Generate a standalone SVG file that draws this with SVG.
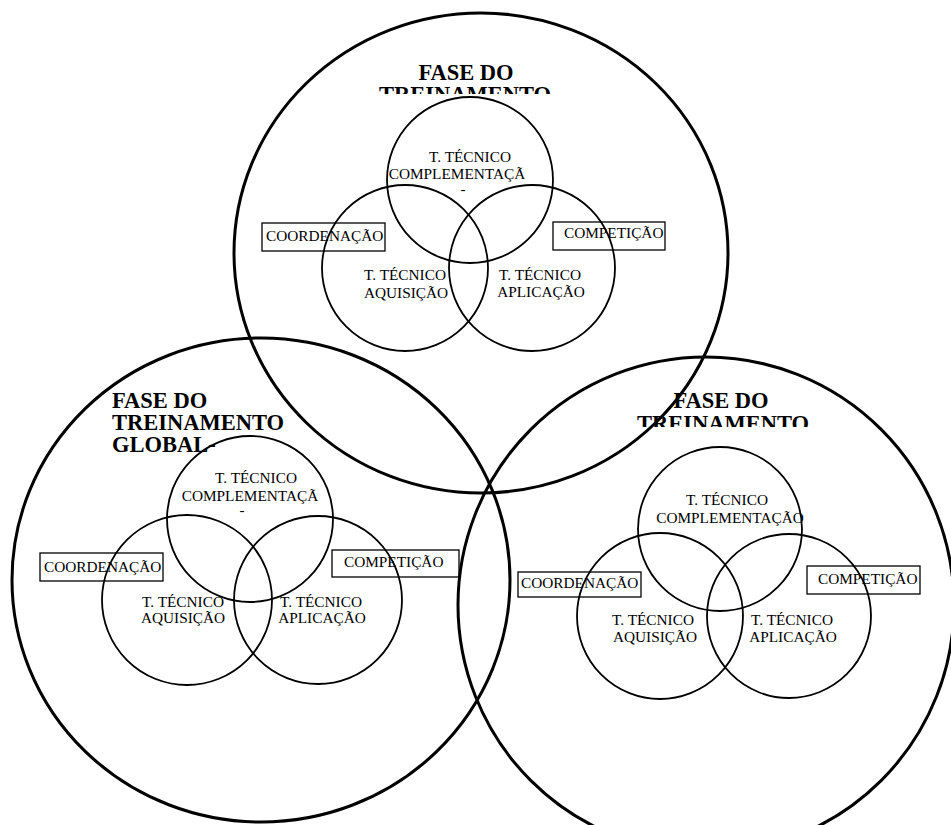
<svg xmlns="http://www.w3.org/2000/svg" width="951" height="825" viewBox="0 0 951 825">
<style>
.big{fill:none;stroke:#000;stroke-width:3}
.sm{fill:none;stroke:#000;stroke-width:1.8}
.box{fill:none;stroke:#000;stroke-width:1.3}
.t{font-family:"Liberation Serif","Times New Roman",serif;font-size:15.3px;fill:#000;text-anchor:middle}
.tl{font-family:"Liberation Serif","Times New Roman",serif;font-size:15.3px;fill:#000}
.h{font-family:"Liberation Serif","Times New Roman",serif;font-size:22.5px;font-weight:bold;fill:#000}
</style>
<defs>
<clipPath id="clipTop"><rect x="0" y="0" width="951" height="94"/></clipPath>
<clipPath id="clipRight"><rect x="0" y="0" width="951" height="427"/></clipPath>
</defs>
<rect width="951" height="825" fill="#fff"/>

<g id="phase-top">
<ellipse class="big" cx="481" cy="253" rx="247" ry="240"/>
<g clip-path="url(#clipTop)">
<text class="h" x="466" y="80" text-anchor="middle">FASE DO</text>
<text class="h" x="465" y="102" text-anchor="middle">TREINAMENTO</text>
</g>
<g id="top-complementacao">
<circle class="sm" cx="470" cy="180" r="83"/>
<text class="t" x="470" y="162">T. TÉCNICO</text>
<text class="t" x="457" y="179">COMPLEMENTAÇÃ</text>
<text class="t" x="463" y="194">-</text>
</g>
<g id="top-aquisicao">
<circle class="sm" cx="405" cy="268" r="83"/>
<text class="t" x="405" y="280">T. TÉCNICO</text>
<text class="t" x="406" y="298">AQUISIÇÃO</text>
</g>
<g id="top-aplicacao">
<circle class="sm" cx="532" cy="268" r="83"/>
<text class="t" x="540" y="280">T. TÉCNICO</text>
<text class="t" x="541" y="297">APLICAÇÃO</text>
</g>
<g id="top-coordenacao">
<rect class="box" x="262" y="223" width="123" height="28"/>
<text class="tl" x="266" y="241">COORDENAÇÃO</text>
</g>
<g id="top-competicao">
<rect class="box" x="553" y="222" width="112" height="28"/>
<text class="tl" x="564" y="238">COMPETIÇÃO</text>
</g>
</g>

<g id="phase-left">
<ellipse class="big" cx="261" cy="580" rx="249" ry="242"/>
<text class="h" x="112" y="408">FASE DO</text>
<text class="h" x="112" y="430">TREINAMENTO</text>
<text class="h" x="112" y="452">GLOBAL-</text>
<g id="left-complementacao">
<circle class="sm" cx="250" cy="519" r="83"/>
<text class="t" x="256" y="483">T. TÉCNICO</text>
<text class="t" x="250" y="501">COMPLEMENTAÇÃ</text>
<text class="t" x="242" y="515">-</text>
</g>
<g id="left-aquisicao">
<circle class="sm" cx="187" cy="600" r="85"/>
<text class="t" x="183" y="607">T. TÉCNICO</text>
<text class="t" x="183" y="623">AQUISIÇÃO</text>
</g>
<g id="left-aplicacao">
<circle class="sm" cx="318" cy="600" r="84"/>
<text class="t" x="321" y="607">T. TÉCNICO</text>
<text class="t" x="322" y="623">APLICAÇÃO</text>
</g>
<g id="left-coordenacao">
<rect class="box" x="40" y="553" width="123" height="28"/>
<text class="tl" x="44" y="572">COORDENAÇÃO</text>
</g>
<g id="left-competicao">
<rect class="box" x="332" y="550" width="127" height="27"/>
<text class="tl" x="344" y="567">COMPETIÇÃO</text>
</g>
</g>

<g id="phase-right">
<ellipse class="big" cx="706" cy="605" rx="248" ry="248"/>
<g clip-path="url(#clipRight)">
<text class="h" x="721" y="408" text-anchor="middle">FASE DO</text>
<text class="h" x="723" y="431" text-anchor="middle">TREINAMENTO</text>
</g>
<g id="right-complementacao">
<circle class="sm" cx="720" cy="529" r="82"/>
<text class="t" x="727" y="505">T. TÉCNICO</text>
<text class="t" x="730" y="523">COMPLEMENTAÇÃO</text>
</g>
<g id="right-aquisicao">
<circle class="sm" cx="660" cy="616" r="83"/>
<text class="t" x="653" y="625">T. TÉCNICO</text>
<text class="t" x="655" y="642">AQUISIÇÃO</text>
</g>
<g id="right-aplicacao">
<circle class="sm" cx="789" cy="616" r="82"/>
<text class="t" x="792" y="625">T. TÉCNICO</text>
<text class="t" x="793" y="642">APLICAÇÃO</text>
</g>
<g id="right-coordenacao">
<rect class="box" x="518" y="572" width="123" height="25"/>
<text class="tl" x="521" y="588">COORDENAÇÃO</text>
</g>
<g id="right-competicao">
<rect class="box" x="807" y="566" width="113" height="28"/>
<text class="tl" x="818" y="584">COMPETIÇÃO</text>
</g>
</g>
<g id="connectors"/>
</svg>
